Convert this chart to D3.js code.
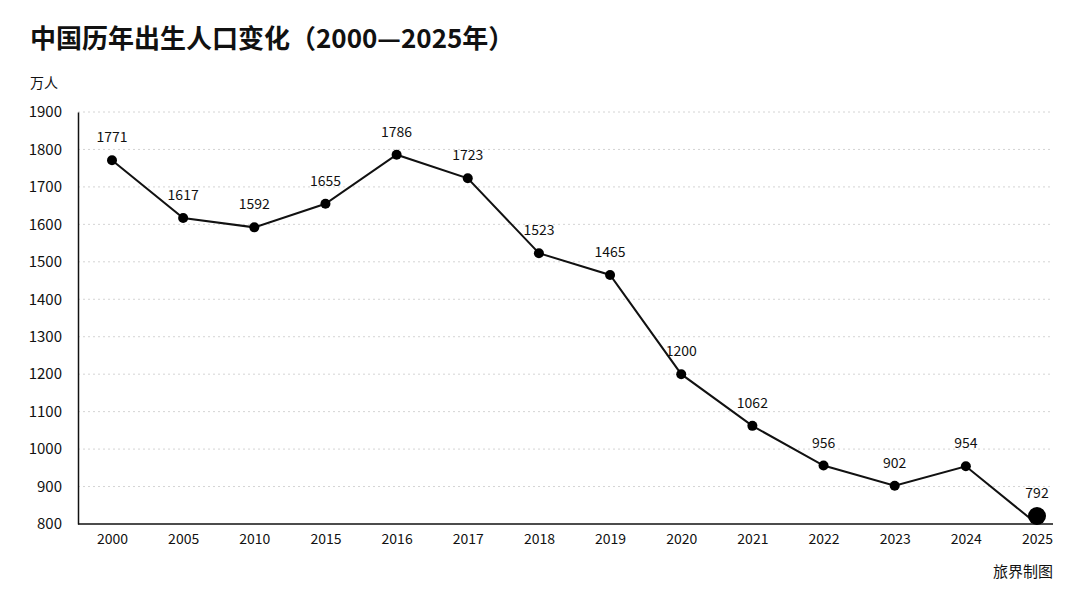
<!DOCTYPE html>
<html>
<head>
<meta charset="utf-8">
<style>
  body { margin: 0; background: #fff; }
  text { font-family: "Noto Sans CJK SC", "Noto Sans", sans-serif; fill: #111; }
  .grid line { stroke: #d4d4d4; stroke-dasharray: 2,3; }
</style>
<script src="https://cdnjs.cloudflare.com/ajax/libs/d3/7.8.5/d3.min.js"></script>
</head>
<body>
<script>
const years = ["2000", "2005", "2010", "2015", "2016", "2017", "2018", "2019",
               "2020", "2021", "2022", "2023", "2024", "2025"];
const births = [1771, 1617, 1592, 1655, 1786, 1723, 1523, 1465,
                1200, 1062, 956, 902, 954, 792];
const yTicks = [800, 900, 1000, 1100, 1200, 1300, 1400, 1500, 1600, 1700, 1800, 1900];

const width = 1080, height = 594;
const margin = { left: 78, right: 27, top: 112, bottom: 70 };

const svg = d3.select("body").append("svg")
    .attr("width", width).attr("height", height);

const x = d3.scalePoint()
    .domain(years)
    .range([margin.left + 34, width - margin.right - 16]);

const y = d3.scaleLinear()
    .domain([800, 1900])
    .range([height - margin.bottom, margin.top])
    .clamp(true);

// title
svg.append("text")
    .attr("x", 30).attr("y", 48)
    .style("font-size", "26px").style("font-weight", "700")
    .text("中国历年出生人口变化（2000—2025年）");

svg.append("text")
    .attr("x", 30).attr("y", 88)
    .style("font-size", "14px")
    .text("万人");

// gridlines
svg.append("g").attr("class", "grid")
    .selectAll("line")
    .data(yTicks.slice(1))
    .join("line")
    .attr("x1", margin.left).attr("x2", width - margin.right)
    .attr("y1", d => y(d)).attr("y2", d => y(d));

// y axis
const yAxis = svg.append("g")
    .attr("transform", `translate(${margin.left},0)`)
    .call(d3.axisLeft(y).tickValues(yTicks).tickFormat(d3.format("d"))
        .tickSize(0).tickPadding(16));
yAxis.select(".domain").attr("stroke", "#111").attr("stroke-width", 1.5);
yAxis.selectAll("text").style("font-size", "15px").attr("fill", "#111");

// x axis
const xAxis = svg.append("g")
    .attr("transform", `translate(0,${height - margin.bottom})`)
    .call(d3.axisBottom(x).tickSize(0).tickPadding(10));
xAxis.select(".domain")
    .attr("d", `M${margin.left},0H${width - margin.right}`)
    .attr("stroke", "#111").attr("stroke-width", 1.5);
xAxis.selectAll("text").style("font-size", "14px").attr("fill", "#111");

// line
const line = d3.line()
    .x((d, i) => x(years[i]))
    .y(d => y(d));

svg.append("path")
    .datum(births)
    .attr("fill", "none")
    .attr("stroke", "#111")
    .attr("stroke-width", 2)
    .attr("d", line);

const last = births.length - 1;

svg.append("g")
    .selectAll("circle")
    .data(births)
    .join("circle")
    .attr("cx", (d, i) => x(years[i]))
    .attr("cy", d => y(d) - (d < 800 ? 8 : 0))
    .attr("r", (d, i) => i === last ? 9 : 5)
    .attr("fill", "#000");

svg.append("g")
    .selectAll("text")
    .data(births)
    .join("text")
    .attr("x", (d, i) => x(years[i]))
    .attr("y", d => y(d) - (d < 800 ? 8 : 0) - 18)
    .attr("text-anchor", "middle")
    .style("font-size", "14px")
    .text(d => d);

svg.append("text")
    .attr("x", width - margin.right).attr("y", 577)
    .attr("text-anchor", "end")
    .style("font-size", "15px")
    .text("旅界制图");
</script>
</body>
</html>
